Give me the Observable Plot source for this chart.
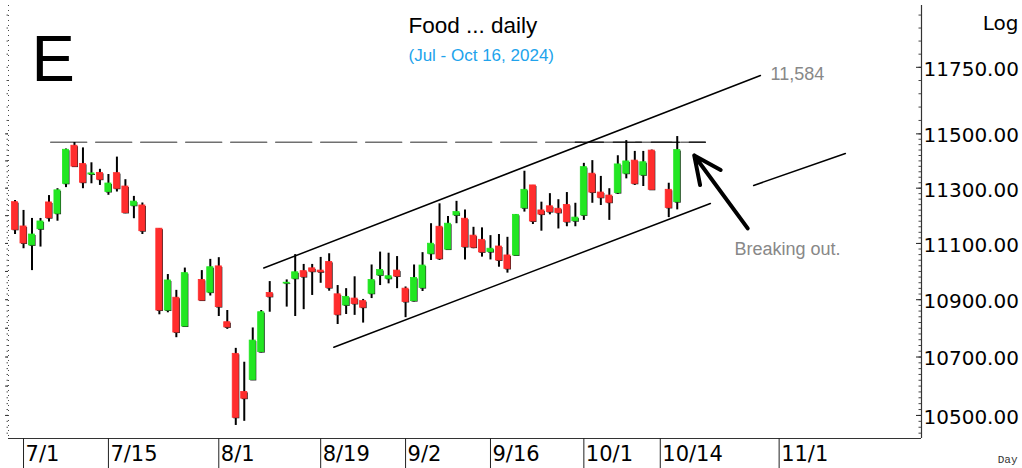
<!DOCTYPE html>
<html><head><meta charset="utf-8">
<script src="https://cdn.jsdelivr.net/npm/d3@7"></script>
<script src="https://cdn.jsdelivr.net/npm/@observablehq/plot@0.6"></script>
<style>html,body{margin:0;padding:0;background:#fff;} #chart{width:1022px;height:468px;overflow:hidden;}</style>
</head><body><div id="chart"></div>
<script>
// ---- data ----
const dates = ["2024-06-28","2024-07-01","2024-07-02","2024-07-03","2024-07-04","2024-07-05",
"2024-07-08","2024-07-09","2024-07-10","2024-07-11","2024-07-12",
"2024-07-15","2024-07-16","2024-07-17","2024-07-18","2024-07-19",
"2024-07-23","2024-07-24","2024-07-25","2024-07-26",
"2024-07-30","2024-07-31","2024-08-01","2024-08-02",
"2024-08-05","2024-08-06","2024-08-07","2024-08-08","2024-08-09",
"2024-08-13","2024-08-14","2024-08-15","2024-08-16",
"2024-08-19","2024-08-20","2024-08-21","2024-08-22","2024-08-23",
"2024-08-26","2024-08-27","2024-08-28","2024-08-29","2024-08-30",
"2024-09-02","2024-09-03","2024-09-04","2024-09-05","2024-09-06",
"2024-09-09","2024-09-10","2024-09-11","2024-09-12","2024-09-13",
"2024-09-16","2024-09-17","2024-09-18","2024-09-19","2024-09-20",
"2024-09-23","2024-09-24","2024-09-25","2024-09-26","2024-09-27",
"2024-09-30","2024-10-01","2024-10-02","2024-10-03","2024-10-04",
"2024-10-07","2024-10-08","2024-10-09","2024-10-10","2024-10-11",
"2024-10-15","2024-10-16"];
const open  = [11249,11161,11093,11151,11248,11207, 11316,11456,11389,11350,11356, 11286,11355,11306,11236,11237,
 11153,10862,10907,10806, 10970,10925,11018,10821, 10711,10580,10621,10717,10924, 10957,10974,11001,11011,
 11003,11034,10919,10880,10904, 10895,10921,10986,10974,11003, 10939,10895,10941,11063,11160,
 11078,11201,11189,11128,11113, 11069,11089,11057,11057,11227, 11310,11219,11234,11225,11239,
 11180,11201,11353,11284,11273, 11282,11353,11401,11347,11438, 11294,11249];
const high  = [11255,11219,11190,11190,11273,11298, 11444,11468,11448,11393,11369, 11350,11414,11331,11270,11246,
 11153,10989,10933,11012, 11003,11043,11049,10862, 10730,10682,10801,10862,10964, 10970,11060,11025,11025,
 11050,11063,10950,10939,10981, 10901,11023,11069,11065,11053, 10945,11023,11067,11171,11243,
 11197,11252,11221,11158,11156, 11128,11132,11122,11204,11362, 11310,11249,11280,11258,11284,
 11245,11391,11401,11343,11298, 11419,11475,11435,11435,11440, 11318,11490];
const low   = [11132,11081,11003,11087,11177,11180, 11302,11376,11298,11316,11310, 11274,11286,11207,11189,11132,
 10847,10854,10767,10803, 10897,10913,10841,10796, 10466,10480,10619,10714,10856, 10874,10841,10865,10915,
 10958,10930,10813,10848,10845, 10818,10904,10950,10956,10939, 10837,10892,10929,11039,11039,
 11075,11171,11041,11081,11051, 11041,11015,10994,11057,11213, 11168,11144,11203,11152,11160,
 11160,11183,11245,11237,11183, 11277,11334,11310,11306,11292, 11193,11221];
const close = [11149,11100,11132,11179,11191,11292, 11441,11379,11320,11354,11331, 11317,11298,11210,11251,11144,
 10862,10968,10785,10994, 10897,11015,10874,10803, 10492,10557,10757,10856,10910, 10960,10997,10980,10999,
 10997,10941,10847,10910,10885, 10872,10970,11005,10983,10982, 10892,10977,11021,11099,11045,
 11171,11213,11087,11085,11068, 11081,11039,11009,11203,11294, 11179,11204,11213,11210,11177,
 11193,11377,11284,11265,11247, 11387,11398,11316,11395,11294, 11228,11440];

const tickDates  = ["2024-07-01","2024-07-15","2024-08-01","2024-08-19","2024-09-02","2024-09-16","2024-10-01","2024-10-14","2024-11-01"];
const tickLabels = ["7/1","7/15","8/1","8/19","9/2","9/16","10/1","10/14","11/1"];
const yTickValues = [10500,10700,10900,11100,11300,11500,11750];

// annotation lines (x in trading-day slots from 7/1, y in index points)
const resistance   = [{x:3.2, y:11469},{x:80.3, y:11469}];
const resistance2  = [{x:65.0, y:11469},{x:80.3, y:11469}];
const upperChannel = [{x:28.3, y:11012},{x:86.8, y:11719}];
const lowerChannel = [{x:36.55, y:10734},{x:80.9, y:11244}];
const projection   = [{x:86.0, y:11310},{x:96.8, y:11427}];
const arrowPts     = [{x1:85.3, y1:11154, x2:79.0, y2:11420}];

const titleText = "Food ... daily";
const subtitleText = "(Jul - Oct 16, 2024)";
const panelLetter = "E";
const targetText = "11,584";
const noteText = "Breaking out.";

// ---- helpers ----
const base = Date.parse("2024-07-01T00:00:00Z");
function slot(ds){ const d = Math.round((Date.parse(ds+"T00:00:00Z")-base)/864e5); const w = Math.floor(d/7); return 5*w + (d-7*w); }
const candles = dates.map((d,k)=>({i:slot(d), o:open[k], h:high[k], l:low[k], c:close[k], up:close[k]>=open[k]}));
const tickIdx = tickDates.map(slot);
const labelOf = new Map(tickIdx.map((t,k)=>[t,tickLabels[k]]));
const minorTicks = [...d3.range(10440,11500,20), ...d3.range(11500,12000,50)];
const leftMajor = d3.range(10500,11600,100);

const xDomain = [-1.77, 105.77];
const yDomain = [10422, 11987];
const GREEN = "#22e622", RED = "#ff2d2d";

const sans = "Liberation Sans, Arial, sans-serif";
const chart = Plot.plot({
  width:1022, height:468, marginLeft:8, marginRight:101, marginTop:5, marginBottom:30,
  x:{domain:xDomain, axis:null},
  y:{type:"log", domain:yDomain, axis:null, label:null},
  color:{type:"identity"},
  style:{fontFamily:"DejaVu Sans", background:"white", color:"black", overflow:"visible"},
  marks:[
    Plot.ruleX([xDomain[0]], {stroke:"#444", strokeDasharray:"1,4"}),
    Plot.ruleY([yDomain[0]], {stroke:"#333", strokeWidth:1.2}),
    Plot.ruleX([xDomain[1]], {stroke:"#333", strokeWidth:1.2}),
    Plot.axisY({anchor:"left", ticks:minorTicks, tickSize:1.5, fill:"none", stroke:"#555", label:null}),
    Plot.axisY({anchor:"left", ticks:leftMajor, tickSize:3, fill:"none", stroke:"#333", label:null}),
    Plot.axisY({anchor:"left", frameAnchor:"right", ticks:minorTicks, tickSize:2.5, fill:"none", stroke:"#444", label:null}),
    Plot.axisY({anchor:"left", frameAnchor:"right", ticks:yTickValues, tickSize:5, fill:"none", stroke:"#222", label:null}),
    Plot.axisY({anchor:"right", ticks:yTickValues, tickSize:0, tickPadding:2, tickFormat:d=>d.toFixed(2), fontSize:20, dy:2, label:null, fill:"black"}),
    Plot.axisX({anchor:"bottom", ticks:tickIdx, tickSize:30, fill:"none", stroke:"#222", label:null}),
    Plot.axisX({anchor:"bottom", ticks:tickIdx, tickSize:0, tickPadding:8, tickFormat:t=>labelOf.get(t), textAnchor:"start", dx:2, fontSize:21, label:null, fill:"black"}),
    Plot.line(resistance, {x:"x", y:"y", stroke:"#707070", strokeWidth:1.5, strokeDasharray:"36,9"}),
    Plot.line(resistance2, {x:"x", y:"y", stroke:"#222", strokeWidth:1.5, strokeDasharray:"28,10"}),
    Plot.line(upperChannel, {x:"x", y:"y", stroke:"black", strokeWidth:1.5}),
    Plot.line(lowerChannel, {x:"x", y:"y", stroke:"black", strokeWidth:1.5}),
    Plot.line(projection, {x:"x", y:"y", stroke:"black", strokeWidth:1.5}),
    Plot.ruleX(candles, {x:"i", y1:"l", y2:"h", stroke:"black", strokeWidth:2}),
    Plot.rect(candles, {x1:d=>d.i-0.36, x2:d=>d.i+0.36, y1:"o", y2:"c", fill:"#222", dx:1, dy:1}),
    Plot.rect(candles, {x1:d=>d.i-0.36, x2:d=>d.i+0.36, y1:"o", y2:"c", fill:d=>d.up?GREEN:RED, stroke:d=>d.up?GREEN:RED, strokeWidth:0.8}),
    Plot.arrow(arrowPts, {x1:"x1", y1:"y1", x2:"x2", y2:"y2", stroke:"black", strokeWidth:4, headLength:30, headAngle:50}),
    Plot.text([panelLetter], {text:d=>d, frameAnchor:"top-left", dx:23, dy:75, lineAnchor:"bottom", textAnchor:"start", fontSize:65, fontFamily:sans, fill:"black"}),
    Plot.text([titleText], {text:d=>d, frameAnchor:"top-left", dx:400, dy:27.5, lineAnchor:"bottom", textAnchor:"start", fontSize:22.5, fontFamily:sans, fill:"black"}),
    Plot.text([subtitleText], {text:d=>d, frameAnchor:"top-left", dx:400, dy:55, lineAnchor:"bottom", textAnchor:"start", fontSize:17, fontFamily:sans, fill:"#21a3ec"}),
    Plot.text(["Log"], {text:d=>d, frameAnchor:"top-left", dx:1010, dy:24, lineAnchor:"bottom", textAnchor:"end", fontSize:20, fill:"black"}),
    Plot.text(["Day"], {text:d=>d, frameAnchor:"top-left", dx:1009, dy:457, lineAnchor:"bottom", textAnchor:"end", fontSize:11, fontFamily:"Liberation Mono, DejaVu Sans Mono, monospace", fill:"#333"}),
    Plot.text([targetText], {text:d=>d, frameAnchor:"top-left", dx:762, dy:74, lineAnchor:"bottom", textAnchor:"start", fontSize:18, fontFamily:sans, fill:"#888"}),
    Plot.text([noteText], {text:d=>d, frameAnchor:"top-left", dx:726, dy:249, lineAnchor:"bottom", textAnchor:"start", fontSize:18, fontFamily:sans, fill:"#888"})
  ]
});
document.getElementById("chart").appendChild(chart);
</script>
</body></html>
